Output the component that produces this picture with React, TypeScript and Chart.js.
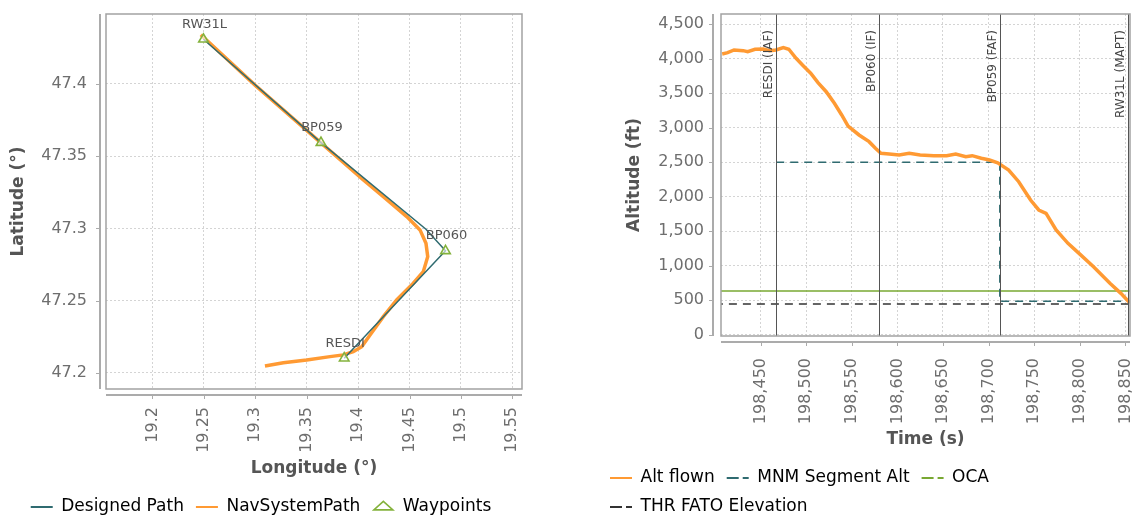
import React, { useEffect, useRef } from 'react';
import { Chart, registerables } from 'chart.js';

Chart.register(...registerables);

const FONT = "'DejaVu Sans', 'Noto Sans', sans-serif";
Chart.defaults.font.family = FONT;

// ---------- Left chart data (lateral path) ----------
const waypointNames = ['RW31L', 'BP059', 'BP060', 'RESDI'];
const waypointLon = [19.2496, 19.3639, 19.485, 19.3865];
const waypointLat = [47.4309, 47.3594, 47.2845, 47.2102];

const designedLon = [19.2496, 19.3639, 19.466, 19.485, 19.3865];
const designedLat = [47.4309, 47.3594, 47.2995, 47.2845, 47.2102];

const navLon = [19.3094, 19.3273, 19.35, 19.3727, 19.3856, 19.3953, 19.4035, 19.4116, 19.4245, 19.4375, 19.4537, 19.4634, 19.4677, 19.466, 19.4602, 19.4473, 19.4245, 19.4051, 19.365, 19.3, 19.247];
const navLat = [47.2048, 47.2071, 47.209, 47.2113, 47.2125, 47.2147, 47.2182, 47.2263, 47.239, 47.2505, 47.2621, 47.2701, 47.2805, 47.2898, 47.299, 47.3082, 47.322, 47.3336, 47.3585, 47.399, 47.434];

const lonTicks = [19.2, 19.25, 19.3, 19.35, 19.4, 19.45, 19.5, 19.55];
const latTicks = [47.2, 47.25, 47.3, 47.35, 47.4];
const lonRange = [19.1548, 19.5594];
const latRange = [47.1889, 47.4484];

// ---------- Right chart data (vertical profile) ----------
const timeValues = [198408, 198414, 198421, 198431, 198436, 198444, 198453, 198460, 198467, 198475, 198481, 198489, 198496, 198505, 198513, 198522, 198531, 198539, 198546, 198558, 198569, 198576, 198582, 198591, 198602, 198613, 198625, 198640, 198654, 198664, 198675, 198682, 198692, 198701, 198710, 198722, 198733, 198746, 198755, 198763, 198774, 198787, 198800, 198815, 198833, 198845, 198855];
const altFlown = [4070, 4089, 4128, 4118, 4103, 4138, 4142, 4118, 4128, 4161, 4138, 4007, 3910, 3790, 3654, 3523, 3355, 3186, 3026, 2896, 2799, 2703, 2630, 2620, 2606, 2630, 2606, 2596, 2596, 2620, 2581, 2596, 2558, 2533, 2494, 2388, 2219, 1953, 1809, 1761, 1519, 1326, 1170, 987, 746, 601, 460];

const fixTimes = [198467.2, 198579.8, 198712.3, 198853];
const fixLabels = ['RESDI (IAF)', 'BP060 (IF)', 'BP059 (FAF)', 'RW31L (MAPT)'];

const mnmTimes = [198467.2, 198712.3, 198712.3, 198860];
const mnmAlt = [2500, 2500, 485, 485];
const ocaTimes = [198400, 198860];
const ocaAlt = [635, 635];
const thrTimes = [198400, 198860];
const thrAlt = [446, 446];

const timeTicks = [198450, 198500, 198550, 198600, 198650, 198700, 198750, 198800, 198850];
const altTicks = [0, 500, 1000, 1500, 2000, 2500, 3000, 3500, 4000, 4500];
const timeRange = [198406.7, 198855];
const altRange = [-17, 4649];

// ---------- styles ----------
const ORANGE = '#ff9a33';
const TEAL = '#2f6b70';
const GREEN = '#84b23c';
const OCA_GREEN = '#79a832';
const GRID = '#d4d4d4';
const TICK_COLOR = '#6e6e6e';
const TITLE_COLOR = '#555555';

const pts = (xs: number[], ys: number[]) => xs.map((x, i) => ({ x, y: ys[i] }));

const noPad = (s: any) => {
  s.paddingTop = 0;
  s.paddingBottom = 0;
  s.paddingLeft = 0;
  s.paddingRight = 0;
};

function makeFrame(yGap: number, xGap: number) {
  return {
    id: 'frame',
    afterDraw(chart: any) {
      const { ctx, chartArea: a, scales } = chart;
      ctx.save();
      ctx.strokeStyle = '#a2a2a2';
      ctx.lineWidth = 1.5;
      ctx.strokeRect(a.left, a.top, a.right - a.left, a.bottom - a.top);
      ctx.strokeStyle = '#ababab';
      ctx.lineWidth = 2;
      const yx = a.left - yGap;
      const xy = a.bottom + xGap;
      ctx.beginPath();
      ctx.moveTo(yx, a.top);
      ctx.lineTo(yx, a.bottom);
      ctx.moveTo(a.left, xy);
      ctx.lineTo(a.right, xy);
      ctx.stroke();
      ctx.lineWidth = 1;
      ctx.beginPath();
      scales.y.ticks.forEach((t: any) => {
        const p = Math.round(scales.y.getPixelForValue(t.value)) + 0.5;
        ctx.moveTo(yx - 4, p);
        ctx.lineTo(yx, p);
      });
      scales.x.ticks.forEach((t: any) => {
        const p = Math.round(scales.x.getPixelForValue(t.value)) + 0.5;
        ctx.moveTo(p, xy);
        ctx.lineTo(p, xy + 4);
      });
      ctx.stroke();
      ctx.restore();
    },
  };
}

const waypointLabelPlugin = {
  id: 'wpLabels',
  afterDatasetsDraw(chart: any) {
    const { ctx, scales } = chart;
    ctx.save();
    ctx.font = `13px ${FONT}`;
    ctx.fillStyle = '#555555';
    ctx.textAlign = 'center';
    ctx.textBaseline = 'middle';
    waypointNames.forEach((n, i) => {
      const x = scales.x.getPixelForValue(waypointLon[i]);
      const y = scales.y.getPixelForValue(waypointLat[i]);
      ctx.fillText(n, x + 1, y - 15);
    });
    ctx.restore();
  },
};

const fixLinesPlugin = {
  id: 'fixLines',
  afterDatasetsDraw(chart: any) {
    const { ctx, chartArea: a, scales } = chart;
    ctx.save();
    ctx.strokeStyle = '#555555';
    ctx.lineWidth = 1;
    ctx.font = `12px ${FONT}`;
    ctx.fillStyle = '#444444';
    fixTimes.forEach((t, i) => {
      const x = Math.round(scales.x.getPixelForValue(t)) + 0.5;
      ctx.beginPath();
      ctx.moveTo(x, a.top);
      ctx.lineTo(x, a.bottom);
      ctx.stroke();
      ctx.save();
      ctx.translate(x - 8, a.top + 16);
      ctx.rotate(-Math.PI / 2);
      ctx.textAlign = 'right';
      ctx.textBaseline = 'middle';
      ctx.fillText(fixLabels[i], 0, 0);
      ctx.restore();
    });
    ctx.restore();
  },
};

const tickFont = { family: FONT, size: 16 };
const titleFont = { family: FONT, size: 17, weight: 'bold' as const };
const legendFont = { family: FONT, size: 17 };

function leftConfig(): any {
  return {
    type: 'line',
    data: {
      datasets: [
        { label: 'Designed Path', data: pts(designedLon, designedLat), borderColor: TEAL, backgroundColor: TEAL, borderWidth: 1.5, pointRadius: 0, order: 1 },
        { label: 'NavSystemPath', data: pts(navLon, navLat), borderColor: ORANGE, backgroundColor: ORANGE, borderWidth: 3.5, pointRadius: 0, order: 2 },
        { label: 'Waypoints', data: pts(waypointLon, waypointLat), showLine: false, pointStyle: 'triangle', pointRadius: 5.5, borderColor: GREEN, backgroundColor: 'rgba(255,255,255,0.6)', pointBorderWidth: 1.6, order: 0 },
      ],
    },
    options: {
      animation: false,
      responsive: false,
      layout: { padding: { left: 0, top: 14, right: 38, bottom: 4.5 } },
      plugins: {
        tooltip: { enabled: false },
        legend: {
          position: 'bottom',
          align: 'center',
          labels: {
            usePointStyle: true,
            pointStyleWidth: 22,
            boxHeight: 8,
            padding: 12,
            font: legendFont,
            color: '#555555',
            generateLabels: (chart: any) =>
              chart.data.datasets.map((ds: any, i: number) => ({
                text: ds.label,
                fillStyle: i === 2 ? '#ffffff' : ds.borderColor,
                strokeStyle: ds.borderColor,
                lineWidth: i === 2 ? 1.6 : 2,
                lineDash: [],
                pointStyle: i === 2 ? 'triangle' : 'line',
                hidden: false,
                datasetIndex: i,
              })),
          },
        },
      },
      scales: {
        x: {
          type: 'linear',
          min: lonRange[0],
          max: lonRange[1],
          afterBuildTicks: (s: any) => { s.ticks = lonTicks.map((v) => ({ value: v })); },
          afterFit: (s: any) => { s.height = 97.5; noPad(s); },
          grid: { color: GRID, drawTicks: false, lineWidth: 1 },
          border: { display: false, dash: [2, 2] },
          ticks: { autoSkip: false, minRotation: 90, maxRotation: 90, padding: 18, color: TICK_COLOR, font: tickFont, callback: (v: any) => String(Number(Number(v).toFixed(3))) },
          title: { display: true, text: 'Longitude (°)', color: TITLE_COLOR, font: titleFont, padding: { top: 0, bottom: 7.3 } },
        },
        y: {
          type: 'linear',
          min: latRange[0],
          max: latRange[1],
          afterBuildTicks: (s: any) => { s.ticks = latTicks.map((v) => ({ value: v })); },
          afterFit: (s: any) => { s.width = 106; noPad(s); },
          grid: { color: GRID, drawTicks: false, lineWidth: 1 },
          border: { display: false, dash: [2, 2] },
          ticks: { padding: 19, color: TICK_COLOR, font: tickFont, callback: (v: any) => String(Number(Number(v).toFixed(3))) },
          title: { display: true, text: 'Latitude (°)', color: TITLE_COLOR, font: titleFont, padding: { top: 8.8, bottom: 0 } },
        },
      },
    },
    plugins: [makeFrame(6, 6), waypointLabelPlugin],
  };
}

function rightConfig(): any {
  return {
    type: 'line',
    data: {
      datasets: [
        { label: 'Alt flown', data: pts(timeValues, altFlown), borderColor: ORANGE, backgroundColor: ORANGE, borderWidth: 3.5, pointRadius: 0, order: 0 },
        { label: 'MNM Segment Alt', data: pts(mnmTimes, mnmAlt), borderColor: TEAL, backgroundColor: TEAL, borderWidth: 1.5, borderDash: [8, 6], pointRadius: 0, order: 1 },
        { label: 'OCA', data: pts(ocaTimes, ocaAlt), borderColor: OCA_GREEN, backgroundColor: OCA_GREEN, borderWidth: 1.5, pointRadius: 0, order: 2 },
        { label: 'THR FATO Elevation', data: pts(thrTimes, thrAlt), borderColor: '#333333', backgroundColor: '#333333', borderWidth: 1.5, borderDash: [8, 6], pointRadius: 0, order: 3 },
      ],
    },
    options: {
      animation: false,
      responsive: false,
      layout: { padding: { left: 38, top: 14, right: 34, bottom: 4.5 } },
      plugins: {
        tooltip: { enabled: false },
        legend: {
          position: 'bottom',
          align: 'start',
          labels: {
            usePointStyle: true,
            pointStyleWidth: 22,
            boxHeight: 8,
            padding: 12,
            font: legendFont,
            color: '#555555',
            generateLabels: (chart: any) =>
              chart.data.datasets.map((ds: any, i: number) => ({
                text: ds.label,
                fillStyle: ds.borderColor,
                strokeStyle: ds.borderColor,
                lineWidth: 2,
                lineDash: i === 0 ? [] : [12, 4],
                pointStyle: 'line',
                hidden: false,
                datasetIndex: i,
              })),
          },
        },
      },
      scales: {
        x: {
          type: 'linear',
          min: timeRange[0],
          max: timeRange[1],
          afterBuildTicks: (s: any) => { s.ticks = timeTicks.map((v) => ({ value: v })); },
          afterFit: (s: any) => { s.height = 121.5; noPad(s); },
          grid: { color: GRID, drawTicks: false, lineWidth: 1 },
          border: { display: false, dash: [2, 2] },
          ticks: { autoSkip: false, minRotation: 90, maxRotation: 90, padding: 22, color: TICK_COLOR, font: tickFont, callback: (v: any) => Number(v).toLocaleString('en-US') },
          title: { display: true, text: 'Time (s)', color: TITLE_COLOR, font: titleFont, padding: { top: 0, bottom: 7.3 } },
        },
        y: {
          type: 'linear',
          min: altRange[0],
          max: altRange[1],
          afterBuildTicks: (s: any) => { s.ticks = altTicks.map((v) => ({ value: v })); },
          afterFit: (s: any) => { s.width = 123; noPad(s); },
          grid: { color: GRID, drawTicks: false, lineWidth: 1 },
          border: { display: false, dash: [2, 2] },
          ticks: { padding: 17, color: TICK_COLOR, font: tickFont, callback: (v: any) => Number(v).toLocaleString('en-US') },
          title: { display: true, text: 'Altitude (ft)', color: TITLE_COLOR, font: titleFont, padding: { top: 26.8, bottom: 0 } },
        },
      },
    },
    plugins: [makeFrame(8, 6), fixLinesPlugin],
  };
}

export default function App() {
  const leftRef = useRef<HTMLCanvasElement>(null);
  const rightRef = useRef<HTMLCanvasElement>(null);

  useEffect(() => {
    const c1 = new Chart(leftRef.current as HTMLCanvasElement, leftConfig());
    const c2 = new Chart(rightRef.current as HTMLCanvasElement, rightConfig());
    return () => {
      c1.destroy();
      c2.destroy();
    };
  }, []);

  return (
    <div style={{ position: 'fixed', left: 0, top: 0, width: 1134, height: 518, overflow: 'hidden', background: '#ffffff' }}>
      <div style={{ position: 'absolute', left: 0, top: 0, width: 560, height: 530 }}>
        <canvas ref={leftRef} width={560} height={530} />
      </div>
      <div style={{ position: 'absolute', left: 560, top: 0, width: 604, height: 530 }}>
        <canvas ref={rightRef} width={604} height={530} />
      </div>
    </div>
  );
}
